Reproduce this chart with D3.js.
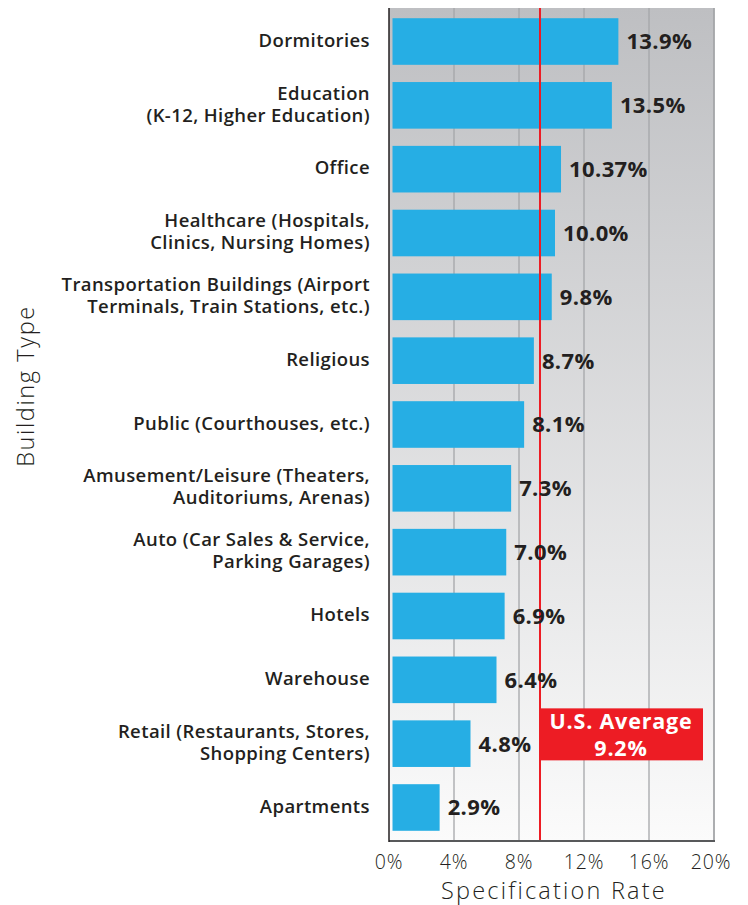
<!DOCTYPE html>
<html><head><meta charset="utf-8">
<script src="https://cdn.jsdelivr.net/npm/d3@7"></script>
<style>body{margin:0;background:#fff}svg{display:block}</style>
</head><body>
<script>
const categories = [
  ["Dormitories"],
  ["Education", "(K-12, Higher Education)"],
  ["Office"],
  ["Healthcare (Hospitals,", "Clinics, Nursing Homes)"],
  ["Transportation Buildings (Airport", "Terminals, Train Stations, etc.)"],
  ["Religious"],
  ["Public (Courthouses, etc.)"],
  ["Amusement/Leisure (Theaters,", "Auditoriums, Arenas)"],
  ["Auto (Car Sales & Service,", "Parking Garages)"],
  ["Hotels"],
  ["Warehouse"],
  ["Retail (Restaurants, Stores,", "Shopping Centers)"],
  ["Apartments"]
];
const values = [13.9, 13.5, 10.37, 10.0, 9.8, 8.7, 8.1, 7.3, 7.0, 6.9, 6.4, 4.8, 2.9];
const valueLabels = ["13.9%", "13.5%", "10.37%", "10.0%", "9.8%", "8.7%", "8.1%", "7.3%", "7.0%", "6.9%", "6.4%", "4.8%", "2.9%"];
const xTicks = [0, 4, 8, 12, 16, 20];
const usAverage = 9.2;
const averageLabel = ["U.S. Average", "9.2%"];

(function () {
const W = 748, H = 905;
const pL = 389, pR = 714, pT = 8, pB = 841;
const font = "'Open Sans', 'Noto Sans', sans-serif";
const dark = "#231f20";

const svg = d3.select("body").append("svg").attr("width", W).attr("height", H);
const defs = svg.append("defs");
const grad = defs.append("linearGradient").attr("id", "bg").attr("x1", 0).attr("y1", 0).attr("x2", 0).attr("y2", 1);
grad.append("stop").attr("offset", "0%").attr("stop-color", "#bebfc2");
grad.append("stop").attr("offset", "100%").attr("stop-color", "#fbfbfb");

const x = d3.scaleLinear().domain([0, 20]).range([pL, pR]);
const idx = categories.map((d, i) => i);
const y = d3.scaleBand().domain(idx).range([pT, pB]).paddingInner(0.27).paddingOuter(0.16);

svg.append("rect").attr("x", pL).attr("y", pT).attr("width", pR - pL).attr("height", pB - pT).attr("fill", "url(#bg)");

svg.append("g").selectAll("line").data(xTicks.filter(t => t > 0)).join("line")
  .attr("x1", d => x(d)).attr("x2", d => x(d)).attr("y1", pT).attr("y2", pB)
  .attr("stroke", "#a5a6a9").attr("stroke-width", 1.3);

const off = 3.5;
svg.append("g").selectAll("rect").data(values).join("rect")
  .attr("x", x(0) + off).attr("y", (d, i) => y(i))
  .attr("width", d => x(d) - x(0)).attr("height", y.bandwidth())
  .attr("fill", "#26aee4");

const ax = x(usAverage) + 1.5;
svg.append("line").attr("x1", ax).attr("x2", ax).attr("y1", pT).attr("y2", pB)
  .attr("stroke", "#ed1c24").attr("stroke-width", 2);

svg.append("g").selectAll("text").data(values).join("text")
  .attr("x", d => x(d) + off + 8).attr("y", (d, i) => y(i) + y.bandwidth() / 2)
  .attr("dy", "0.36em")
  .attr("font-family", font).attr("font-weight", 700).attr("font-size", 22)
  .attr("letter-spacing", 0.4)
  .attr("fill", dark)
  .text((d, i) => valueLabels[i]);

const bi = categories.length - 2;
const boxTop = y(bi) - 12;
svg.append("rect").attr("x", ax - 1).attr("y", boxTop).attr("width", 703 - ax + 1).attr("height", 52).attr("fill", "#ed1c24");
const bcx = (ax - 1 + 703) / 2;
svg.append("text").attr("x", bcx).attr("y", boxTop + 21).attr("text-anchor", "middle")
  .attr("font-family", font).attr("font-weight", 700).attr("font-size", 21.5).attr("letter-spacing", 0.8).attr("fill", "#fff")
  .text(averageLabel[0]);
svg.append("text").attr("x", bcx).attr("y", boxTop + 47.5).attr("text-anchor", "middle")
  .attr("font-family", font).attr("font-weight", 700).attr("font-size", 21.5).attr("letter-spacing", 0.8).attr("fill", "#fff")
  .text(averageLabel[1]);

svg.append("line").attr("x1", pR).attr("x2", pR).attr("y1", pT).attr("y2", pB).attr("stroke", "#a5a6a9").attr("stroke-width", 1.5);
svg.append("line").attr("x1", pL).attr("x2", pR + 1).attr("y1", pB).attr("y2", pB).attr("stroke", "#58595b").attr("stroke-width", 2);
svg.append("line").attr("x1", pL).attr("x2", pL).attr("y1", pT).attr("y2", pB + 1).attr("stroke", dark).attr("stroke-width", 1.5);

svg.append("g").selectAll("text").data(xTicks).join("text")
  .attr("x", d => Math.min(x(d), 711)).attr("y", 869).attr("text-anchor", "middle")
  .attr("font-family", font).attr("font-weight", 300).attr("font-size", 19.5).attr("letter-spacing", 0.8).attr("fill", dark)
  .text(d => d + "%");

svg.append("text").attr("x", 554).attr("y", 899).attr("text-anchor", "middle")
  .attr("font-family", font).attr("font-weight", 300).attr("font-size", 23.5).attr("letter-spacing", 2.2).attr("fill", dark)
  .text("Specification Rate");

svg.append("text").attr("transform", "translate(34,386) rotate(-90)").attr("text-anchor", "middle")
  .attr("font-family", font).attr("font-weight", 300).attr("font-size", 23.5).attr("letter-spacing", 1.6).attr("fill", dark)
  .text("Building Type");

const cat = svg.append("g").selectAll("text").data(categories).join("text")
  .attr("text-anchor", "end")
  .attr("font-family", font).attr("font-weight", 600).attr("font-size", 18.5).attr("letter-spacing", 0.4).attr("fill", dark)
  .attr("y", (d, i) => y(i) + y.bandwidth() / 2 - 1.5 - (d.length - 1) * 11);
cat.selectAll("tspan").data(d => d).join("tspan")
  .attr("x", 370).attr("dy", (d, j) => j === 0 ? "0.36em" : 22)
  .text(d => d);
})();
</script>
</body></html>
